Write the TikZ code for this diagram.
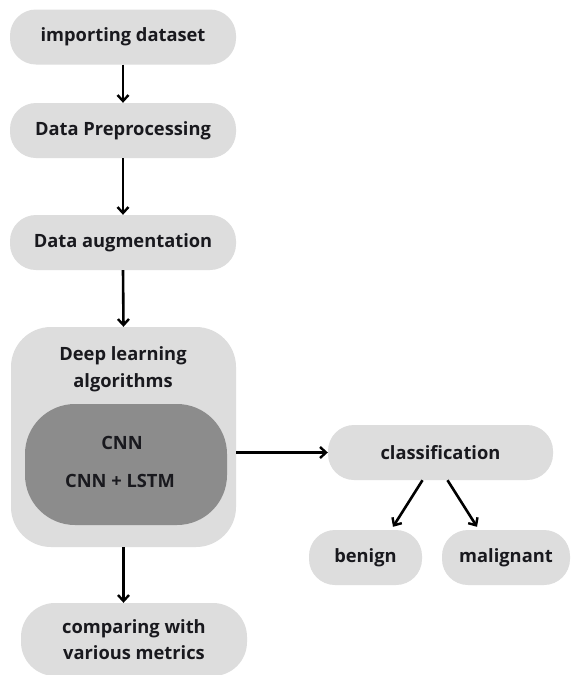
\documentclass[tikz,border=0pt]{standalone}
\usepackage{fontspec}
\setmainfont{Open Sans}
\usetikzlibrary{arrows.meta,calc}
\definecolor{boxgray}{RGB}{221,221,221}
\definecolor{innergray}{RGB}{140,140,140}
\definecolor{txt}{RGB}{25,25,30}
\tikzset{
  lbl/.style={text=txt, align=center, font=\bfseries\fontsize{18.3}{26.5}\selectfont},
  pill/.style={lbl, fill=boxgray, rounded corners=26pt, minimum height=55pt, inner sep=0pt},
  conn/.style={-{Straight Barb[length=6pt,width=11pt,line width=2.4pt]}, line width=2.6pt, black}
}
\begin{document}
\begin{tikzpicture}[x=1pt,y=-1pt]
\useasboundingbox (0,0) rectangle (573,675);
\fill[white] (0,0) rectangle (573,675);
\node[pill, minimum width=226pt] (n1) at (123,37) {\raisebox{-1.5pt}{importing dataset}};
\node[pill, minimum width=226pt] (n2) at (123,130.5) {\raisebox{-1.5pt}{Data Preprocessing}};
\node[pill, minimum width=226pt] (n3) at (123,242.5) {\raisebox{-1.5pt}{Data augmentation}};
\node[pill, minimum width=225pt, minimum height=220pt, rounded corners=40pt] (big) at (123.5,437) {};
\node[lbl] (dl) at (123,369) {Deep learning\\algorithms};
\node[fill=innergray, rounded corners=50pt, minimum width=202pt, minimum height=121pt, inner sep=0pt] (inner) at (126,464.5) {};
\node[lbl] (cnn) at (122,443) {CNN};
\node[lbl] (lstm) at (120,481) {CNN + LSTM};
\node[pill, minimum width=226pt, minimum height=73pt, rounded corners=34pt] (n4) at (134,639.5) {\raisebox{-2pt}{\parbox{200pt}{\centering comparing with\\various metrics}}};
\node[pill, minimum width=225pt] (cls) at (440.5,452.5) {\raisebox{-1.5pt}{classification}};
\node[pill, minimum width=113pt] (ben) at (365.5,557.5) {\raisebox{-1.5pt}{benign}};
\node[pill, minimum width=128pt] (mal) at (506,557.5) {\raisebox{-1.5pt}{malignant}};
\draw[conn] (n1.south) -- (n2.north);
\draw[conn] (n2.south) -- (n3.north);
\draw[conn] (n3.south) -- (big.north);
\draw[conn] (big.south) -- (big.south |- n4.north);
\draw[conn] (big.east |- cls.west) -- (cls.west);
\draw[conn] ($(cls.south)+(-18,0)$) -- ($(ben.north)+(27.5,-3)$);
\draw[conn] ($(cls.south)+(7,0)$) -- ($(mal.north)+(-29,-3)$);
\end{tikzpicture}
\end{document}
